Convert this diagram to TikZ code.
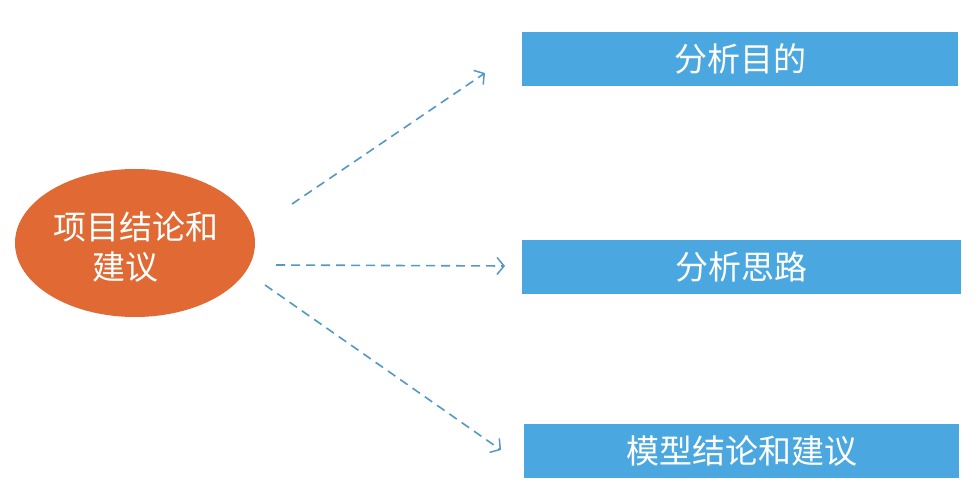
\documentclass[tikz,border=0pt]{standalone}
\usepackage{fontspec}
\setmainfont{Noto Sans CJK SC}
\usetikzlibrary{arrows.meta,shapes.geometric}
\definecolor{orangefill}{HTML}{E06934}
\definecolor{boxblue}{HTML}{4AA7E0}
\definecolor{arrowblue}{HTML}{5598C4}
\begin{document}
\begin{tikzpicture}[x=1pt,y=-1pt,
  bluebox/.style={fill=boxblue, draw=none, minimum width=436pt, minimum height=54pt, inner sep=0pt, text=white, font=\fontsize{33}{38}\selectfont},
  hub/.style={ellipse, fill=orangefill, draw=none, minimum width=240pt, minimum height=148pt, inner sep=0pt},
  hubtext/.style={text=white, font=\fontsize{33}{38}\selectfont, inner sep=0pt},
  dasharrow/.style={draw=arrowblue, line width=1.6pt, dash pattern=on 9pt off 6pt, -{Straight Barb[length=7pt, width=17pt, line width=1.5pt]}}
]
\useasboundingbox (0,0) rectangle (979,502);
\fill[white] (0,0) rectangle (979,502);
\node[hub] (hub) at (135,243) {};
\node[hubtext] (l1) at (136,227) {项目结论和};
\node[hubtext] (l2) at (125,267) {建议};
\node[bluebox] (b1) at (740,59) {分析目的};
\node[bluebox, minimum width=439pt] (b2) at (741.5,267) {分析思路};
\node[bluebox, minimum width=435pt] (b3) at (741.5,451) {模型结论和建议};
\coordinate (s1) at (292,204);
\coordinate (e1) at (485,73);
\coordinate (s2) at (276,265);
\coordinate (e2) at (505,266);
\coordinate (s3) at (265,285);
\coordinate (e3) at (501,450);
\draw[dasharrow] (s1) -- (e1);
\draw[dasharrow] (s2) -- (e2);
\draw[dasharrow] (s3) -- (e3);
\end{tikzpicture}
\end{document}
